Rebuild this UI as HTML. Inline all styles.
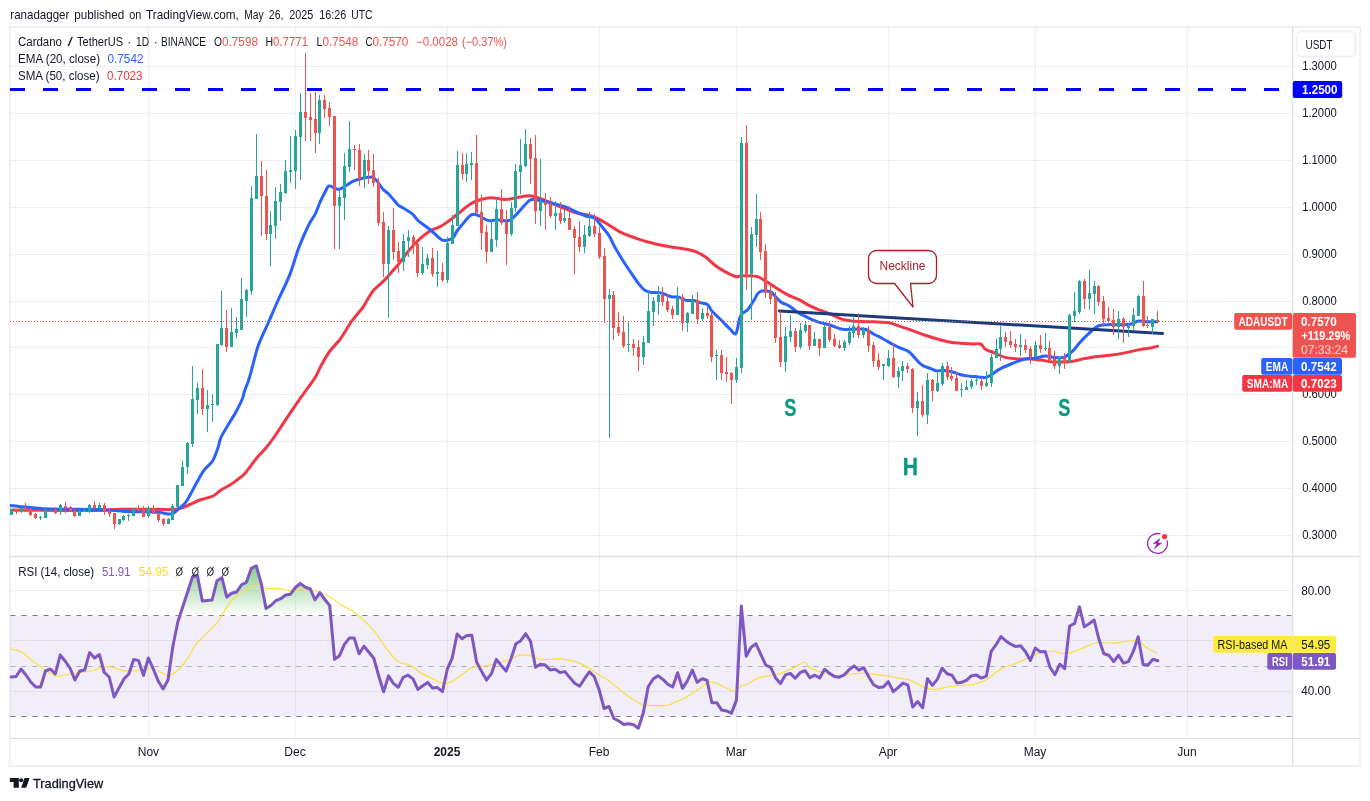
<!DOCTYPE html>
<html><head><meta charset="utf-8"><title>ADAUSDT</title>
<style>html,body{margin:0;padding:0;background:#fff;}body{width:1370px;height:801px;overflow:hidden;}svg{display:block;will-change:transform;}text{font-family:"Liberation Sans",sans-serif;}</style></head><body>
<svg width="1370" height="801" viewBox="0 0 1370 801">
<defs>
<linearGradient id="gUp" gradientUnits="userSpaceOnUse" x1="0" y1="540" x2="0" y2="615.8"><stop offset="0" stop-color="#4caf50" stop-opacity="1"/><stop offset="1" stop-color="#4caf50" stop-opacity="0"/></linearGradient>
<linearGradient id="gDn" gradientUnits="userSpaceOnUse" x1="0" y1="716.6" x2="0" y2="792"><stop offset="0" stop-color="#ff5252" stop-opacity="0"/><stop offset="1" stop-color="#ff5252" stop-opacity="1"/></linearGradient>
<clipPath id="cpMain"><rect x="10" y="27" width="1283" height="529.5"/></clipPath>
<clipPath id="cpUp"><rect x="10" y="557" width="1283" height="58.8"/></clipPath>
<clipPath id="cpDn"><rect x="10" y="716.6" width="1283" height="22"/></clipPath>
<clipPath id="cpRsi"><rect x="10" y="557" width="1283" height="181.5"/></clipPath>
</defs>
<rect width="1370" height="801" fill="#fff"/>
<rect x="9.8" y="26.8" width="1350.4" height="739.4" fill="#fff" stroke="#edeff3" stroke-width="1.7"/>
<rect x="10" y="615.8" width="1283" height="100.8" fill="#7e57c2" fill-opacity="0.1"/>
<path d="M148.5 27V738 M295.5 27V738 M447.5 27V738 M599.5 27V738 M736.5 27V738 M888.5 27V738 M1035.5 27V738 M1187.5 27V738 M10 66.5H1293 M10 113.5H1293 M10 160.5H1293 M10 207.5H1293 M10 254.5H1293 M10 301.5H1293 M10 347.5H1293 M10 394.5H1293 M10 441.5H1293 M10 488.5H1293 M10 535.5H1293 M10 590.5H1293 M10 640.5H1293 M10 691.5H1293" stroke="#2a2e39" stroke-opacity="0.07" stroke-width="1" fill="none"/>
<path d="M10 556.5H1360" stroke="#e0e3eb" stroke-width="1.4"/>
<path d="M1292.7 27V766" stroke="#dfe1e6" stroke-width="1.3"/>
<path d="M10 738.5H1360" stroke="#dfe1e6" stroke-width="1.2"/>
<path d="M10 615.5H1293 M10 716.5H1293" stroke="#787b86" stroke-width="1.1" stroke-dasharray="5 6" stroke-dashoffset="-0.5" fill="none"/>
<path d="M10 666.5H1293" stroke="#787b86" stroke-opacity="0.55" stroke-width="1.1" stroke-dasharray="5 6" stroke-dashoffset="-0.5" fill="none"/>
<g clip-path="url(#cpMain)">
<path d="M10 89.5H1293" stroke="#0000ff" stroke-width="3" stroke-dasharray="15 18" fill="none"/>
<path d="M10.0 510.0C19.0 510.1 43.8 510.4 60.0 510.5C76.0 510.6 89.2 510.7 100.0 510.5C108.0 510.3 112.0 509.3 120.0 509.2C133.0 509.0 161.2 509.6 172.0 509.5C175.2 509.5 176.9 509.4 180.0 508.5C183.2 507.6 186.4 506.0 190.0 504.5C193.6 503.0 195.9 501.5 200.0 500.0C204.1 498.5 209.2 497.8 213.0 496.0C216.6 494.3 217.8 492.0 220.9 490.0C224.0 488.0 227.3 486.6 230.0 485.0C232.5 483.5 233.6 482.7 235.9 480.9C238.6 478.8 241.8 476.9 244.9 473.4C248.7 469.2 253.1 462.3 256.9 457.7C260.3 453.6 262.7 451.9 265.9 448.0C269.1 444.1 271.5 440.9 274.9 436.0C278.4 430.9 281.3 426.3 285.6 419.9C290.1 413.2 294.6 406.5 299.9 398.9C305.2 391.3 311.1 383.8 314.9 377.9C317.8 373.4 318.3 370.6 320.9 365.9C323.6 361.1 326.4 355.8 329.9 351.0C333.4 346.2 336.5 344.1 340.3 339.0C344.1 333.9 346.8 328.2 350.8 322.5C354.9 316.8 359.8 311.6 362.8 307.5C364.9 304.7 365.4 303.0 367.3 300.0C369.3 296.9 370.7 293.6 373.8 290.1C376.9 286.6 380.5 284.3 384.3 280.4C388.1 276.5 392.0 271.6 394.8 268.4C396.9 266.0 398.0 264.9 400.0 262.4C402.6 259.2 405.5 254.6 409.0 250.4C412.5 246.2 415.7 242.7 419.5 239.2C423.3 235.7 426.2 233.3 430.0 231.0C433.8 228.7 437.0 228.4 440.5 226.5C444.0 224.6 446.0 223.1 449.5 220.5C453.0 217.9 456.2 215.2 460.0 212.2C463.8 209.2 466.6 206.3 470.4 204.0C474.2 201.7 477.1 200.6 480.9 199.5C484.7 198.4 487.1 197.7 491.4 197.7C495.7 197.7 500.3 199.5 504.9 199.5C509.5 199.5 512.6 198.4 516.9 197.7C521.2 197.0 525.1 195.7 528.9 195.7C532.6 195.7 534.4 196.6 537.9 197.7C541.7 198.9 545.1 200.6 549.9 202.5C554.7 204.4 560.0 206.6 564.8 208.5C569.6 210.4 572.5 211.8 576.8 213.0C581.1 214.2 585.0 214.2 588.8 215.2C592.5 216.2 594.3 217.0 597.8 218.7C601.3 220.4 604.4 222.3 608.5 224.7C612.6 227.1 615.4 229.8 620.5 232.2C626.2 234.9 633.8 237.6 640.0 239.7C645.9 241.7 649.0 242.5 654.9 243.8C660.8 245.2 667.0 246.2 672.9 247.2C678.8 248.2 683.6 248.6 687.9 249.5C691.6 250.3 693.7 250.8 696.9 252.2C700.1 253.6 702.7 255.0 705.9 257.3C709.1 259.6 711.4 262.6 714.9 265.2C718.4 267.8 721.6 269.8 725.4 271.9C729.2 274.0 732.9 276.0 735.9 276.7C738.3 277.2 739.5 275.7 741.9 275.7C745.7 275.6 752.8 275.6 756.8 276.4C760.1 277.1 761.4 278.5 764.3 280.2C767.5 282.1 770.8 284.3 774.8 286.9C778.8 289.5 782.4 292.1 786.8 294.4C791.2 296.7 794.9 297.7 799.0 299.7C803.1 301.7 805.7 303.8 809.5 305.7C813.3 307.6 816.2 308.7 820.0 310.2C823.8 311.7 826.7 312.5 830.5 314.0C834.3 315.5 837.5 317.6 841.0 318.8C844.4 320.0 846.4 320.2 849.9 320.7C853.4 321.2 856.2 321.3 860.4 321.5C864.7 321.7 868.8 321.6 873.9 321.8C879.0 322.0 884.6 322.0 888.9 322.7C892.6 323.3 894.3 324.5 897.9 325.7C901.7 327.0 905.6 328.2 909.9 329.7C914.2 331.2 917.6 332.7 921.9 334.2C926.2 335.7 929.1 336.6 933.9 338.0C939.0 339.4 945.5 341.3 950.3 342.2C954.4 343.0 956.6 342.9 960.8 343.2C965.2 343.5 971.4 343.7 975.0 343.9C977.4 344.0 979.1 343.2 981.0 344.2C982.9 345.2 983.2 347.7 985.5 349.2C987.9 350.8 991.0 351.4 994.5 352.9C998.0 354.4 1001.0 356.3 1005.0 357.4C1009.0 358.5 1012.4 358.6 1017.0 358.9C1021.6 359.2 1026.1 358.7 1030.4 358.9C1034.6 359.1 1036.9 359.6 1040.9 360.1C1045.0 360.6 1048.1 361.7 1052.9 361.9C1058.3 362.2 1065.5 362.1 1070.9 361.6C1075.8 361.1 1078.6 359.8 1082.9 358.9C1087.2 358.0 1090.1 357.4 1094.9 356.7C1099.8 356.0 1104.5 355.9 1109.9 355.2C1115.3 354.5 1119.5 353.9 1124.9 352.9C1130.3 351.9 1135.0 350.5 1139.8 349.6C1144.6 348.7 1148.6 348.3 1151.8 347.7C1154.1 347.3 1156.5 346.5 1157.5 346.2" fill="none" stroke="#f23645" stroke-width="3" stroke-linejoin="round" stroke-linecap="round"/>
<path d="M10.0 505.5C13.6 505.9 22.8 506.9 30.0 507.5C37.2 508.1 42.0 508.8 50.0 509.0C62.6 509.4 86.5 509.1 100.0 509.5C110.0 509.8 116.9 511.1 125.0 511.5C133.0 511.9 140.5 511.7 145.0 511.8C147.0 511.8 148.0 511.9 150.0 512.0C152.7 512.1 156.8 512.1 160.0 512.5C163.2 512.9 165.7 513.8 168.0 514.0C170.0 514.2 171.3 514.3 173.0 513.5C174.7 512.7 175.7 511.3 177.5 509.8C179.7 507.9 182.8 505.7 185.0 503.2C187.2 500.7 187.8 499.0 189.5 496.0C191.7 492.2 194.3 486.7 197.0 482.0C199.7 477.3 201.6 473.5 204.4 469.7C207.2 465.9 210.3 464.6 212.7 460.7C215.1 456.8 216.4 452.2 217.9 448.0C219.4 443.9 219.1 441.5 220.9 437.5C223.1 432.8 227.2 426.6 229.9 422.0C232.3 418.0 233.7 416.1 235.9 412.0C238.2 407.7 241.2 401.7 242.7 398.0C243.7 395.5 243.5 394.0 244.4 391.4C245.5 388.1 247.4 384.3 248.9 379.4C250.5 374.3 251.8 368.8 253.4 362.9C255.0 357.0 256.5 350.8 257.9 346.5C258.9 343.4 259.6 342.0 260.9 339.0C262.8 334.7 265.5 329.1 268.4 322.5C271.5 315.5 274.3 308.7 278.2 300.0C282.1 291.3 286.2 283.9 289.9 274.4C293.6 264.9 295.4 256.6 298.9 247.4C302.4 238.2 306.4 229.6 309.4 223.5C311.4 219.4 313.5 217.5 315.4 213.7C317.3 209.9 318.2 206.4 319.9 202.5C321.6 198.6 323.5 195.0 325.1 192.0C326.5 189.5 327.1 186.7 328.9 186.0C330.7 185.3 333.0 187.6 334.9 188.2C336.7 188.8 337.6 189.7 339.4 189.3C341.3 188.9 343.0 187.4 345.4 186.0C348.0 184.5 350.5 182.4 353.9 180.9C357.3 179.4 361.2 178.6 364.4 177.9C367.4 177.3 369.7 176.6 371.9 177.1C374.1 177.6 375.2 178.9 376.8 180.7C378.8 182.8 380.6 186.6 382.8 189.0C384.9 191.4 386.6 191.9 388.8 194.2C391.5 197.0 395.8 202.5 397.8 204.7C398.5 205.5 399.1 205.6 400.0 206.2C402.6 207.8 408.8 211.1 412.0 213.7C414.8 216.0 415.3 218.1 418.0 220.5C421.2 223.3 425.7 226.0 430.0 229.5C434.3 233.0 438.8 238.1 442.0 240.0C444.1 241.2 446.0 240.4 448.0 240.0C450.0 239.6 451.6 239.3 453.2 237.7C454.8 236.1 455.2 233.5 457.0 231.0C459.0 228.2 461.8 224.9 464.4 222.0C467.0 219.1 468.8 216.0 471.2 214.8C473.6 213.6 475.6 214.5 477.9 215.2C480.2 215.9 481.7 217.7 483.9 218.7C486.1 219.7 487.5 220.6 489.9 220.8C492.3 221.0 494.7 219.7 497.4 219.7C500.1 219.7 502.5 220.8 504.9 220.8C507.3 220.8 508.8 221.0 510.9 219.7C513.3 218.2 516.0 214.8 518.4 212.2C520.8 209.6 522.2 207.7 524.4 205.5C526.6 203.3 528.0 200.8 530.4 199.8C532.8 198.8 534.9 199.8 537.9 200.2C541.4 200.7 545.1 201.4 549.9 202.5C554.7 203.7 560.0 205.0 564.8 206.7C569.6 208.4 573.0 210.5 576.8 212.2C580.4 213.8 582.6 214.9 585.8 216.0C589.0 217.1 592.1 216.5 594.8 218.2C597.5 219.9 598.6 222.5 601.0 225.5C603.6 228.7 606.8 232.2 609.2 236.0C611.6 239.8 612.2 242.4 614.5 246.5C617.1 251.1 620.3 256.4 623.5 261.5C626.7 266.6 629.5 270.6 632.5 274.9C635.4 279.1 637.8 282.7 640.0 285.4C641.6 287.4 642.6 288.7 644.5 289.9C646.4 291.1 647.9 291.7 650.4 292.2C653.4 292.7 657.1 292.1 660.9 292.9C664.7 293.7 668.2 295.9 671.4 296.7C674.3 297.4 676.2 296.4 678.9 297.1C681.6 297.8 683.7 299.8 686.4 300.4C689.1 301.0 691.5 300.0 693.9 300.4C696.3 300.8 697.5 301.9 699.9 302.7C702.3 303.5 705.2 303.1 707.4 304.6C709.6 306.1 709.8 308.6 711.9 310.9C714.6 313.9 719.2 318.2 722.4 321.4C725.4 324.4 727.5 326.7 729.9 328.9C732.1 330.9 734.2 335.3 735.9 333.4C737.6 331.5 738.5 321.9 739.6 318.4C740.2 316.5 740.5 315.4 741.9 313.9C743.4 312.3 745.9 311.6 747.9 309.4C750.1 307.0 751.8 303.6 753.9 300.4C756.0 297.2 756.8 293.3 759.8 291.7C762.8 290.1 767.6 290.9 770.3 291.7C772.7 292.4 773.0 294.2 774.8 295.9C776.7 297.7 778.1 300.0 780.8 301.9C783.5 303.8 786.5 304.4 789.8 306.4C793.1 308.4 795.7 311.2 799.0 313.2C802.3 315.2 804.5 316.1 808.0 317.7C811.5 319.3 814.5 320.8 818.5 322.2C822.5 323.6 826.2 323.9 830.5 325.2C834.8 326.5 838.4 328.6 842.4 329.3C846.4 330.0 848.9 329.3 852.9 329.3C856.9 329.3 861.1 328.4 864.9 329.3C868.7 330.2 870.7 332.5 873.9 334.2C877.1 335.9 879.7 337.0 882.9 338.7C886.1 340.4 888.9 342.3 891.9 343.9C894.9 345.5 896.4 346.3 899.4 347.7C902.4 349.1 905.7 349.7 908.4 351.4C911.1 353.1 912.0 355.0 914.4 357.4C916.8 359.8 918.9 362.9 921.9 364.9C924.9 366.9 928.2 367.6 930.9 368.7C933.3 369.6 934.7 370.6 936.9 370.9C939.1 371.2 940.5 370.1 942.9 370.2C945.6 370.3 948.6 370.9 951.8 371.7C955.0 372.5 957.6 373.9 960.8 374.7C964.0 375.5 966.6 375.8 969.8 376.2C973.0 376.6 976.0 376.6 978.8 376.9C981.5 377.1 983.2 378.0 985.5 377.6C987.8 377.2 989.2 376.0 991.5 374.6C994.2 373.0 996.7 370.6 1000.5 368.6C1004.3 366.6 1008.2 365.1 1012.5 363.4C1016.8 361.7 1020.5 360.1 1024.5 359.2C1028.5 358.3 1031.1 358.8 1034.9 358.2C1038.7 357.6 1041.9 356.0 1045.4 355.9C1048.9 355.8 1051.2 357.1 1054.4 357.4C1057.6 357.7 1060.7 358.1 1063.4 357.4C1066.1 356.7 1067.5 355.1 1069.4 353.7C1071.3 352.3 1072.3 351.6 1073.9 349.9C1075.8 347.9 1077.3 345.2 1079.9 342.4C1082.6 339.4 1085.7 336.3 1088.9 333.4C1092.1 330.5 1094.7 327.8 1097.9 326.2C1101.1 324.6 1103.3 325.0 1106.9 324.7C1110.7 324.4 1114.6 324.8 1118.9 324.7C1123.2 324.6 1127.4 324.7 1130.9 324.1C1134.0 323.5 1135.6 321.5 1138.3 321.1C1141.0 320.7 1142.8 321.6 1145.8 321.7C1149.2 321.8 1155.1 321.7 1157.1 321.7" fill="none" stroke="#2962ff" stroke-width="3" stroke-linejoin="round" stroke-linecap="round"/>
<path d="M779.3 310.9L1162.6 333.4" stroke="#1c3a7c" stroke-width="3" stroke-linecap="round" fill="none"/>
<path d="M11 509h1V515h-1zM21 508h1V513h-1zM40 516h1V520h-1zM45 509h1V518h-1zM50 510h1V511h-1zM60 504h1V515h-1zM79 510h1V516h-1zM84 508h1V512h-1zM89 504h1V513h-1zM99 503h1V509h-1zM119 519h1V525h-1zM123 515h1V521h-1zM128 514h1V521h-1zM133 508h1V516h-1zM148 506h1V518h-1zM168 518h1V524h-1zM172 504h1V520h-1zM177 485h1V507h-1zM182 461h1V486h-1zM187 442h1V474h-1zM192 366h1V447h-1zM197 383h1V414h-1zM207 390h1V432h-1zM212 394h1V422h-1zM217 344h1V406h-1zM221 291h1V346h-1zM231 308h1V347h-1zM236 317h1V338h-1zM241 278h1V330h-1zM246 289h1V317h-1zM251 186h1V295h-1zM256 134h1V199h-1zM270 211h1V266h-1zM275 187h1V239h-1zM280 184h1V221h-1zM285 160h1V194h-1zM290 136h1V183h-1zM295 130h1V189h-1zM300 93h1V180h-1zM319 95h1V144h-1zM339 190h1V249h-1zM344 153h1V220h-1zM349 121h1V172h-1zM364 154h1V188h-1zM388 226h1V318h-1zM403 234h1V271h-1zM408 230h1V257h-1zM422 247h1V275h-1zM427 254h1V269h-1zM437 251h1V287h-1zM447 237h1V283h-1zM452 215h1V244h-1zM457 151h1V226h-1zM466 153h1V182h-1zM471 152h1V180h-1zM491 219h1V252h-1zM496 198h1V247h-1zM511 202h1V236h-1zM515 164h1V212h-1zM520 139h1V194h-1zM525 129h1V167h-1zM540 159h1V226h-1zM555 201h1V230h-1zM564 210h1V223h-1zM584 225h1V253h-1zM589 212h1V237h-1zM609 289h1V438h-1zM628 321h1V352h-1zM643 336h1V365h-1zM648 291h1V343h-1zM653 297h1V326h-1zM658 286h1V315h-1zM677 287h1V315h-1zM687 312h1V332h-1zM692 295h1V314h-1zM702 308h1V321h-1zM716 350h1V380h-1zM736 358h1V383h-1zM741 137h1V373h-1zM751 227h1V320h-1zM756 194h1V247h-1zM785 327h1V372h-1zM790 315h1V342h-1zM800 323h1V349h-1zM805 321h1V333h-1zM814 332h1V346h-1zM824 325h1V348h-1zM844 340h1V351h-1zM849 326h1V345h-1zM853 316h1V338h-1zM863 327h1V338h-1zM883 364h1V380h-1zM888 350h1V367h-1zM898 367h1V388h-1zM902 361h1V381h-1zM917 392h1V436h-1zM927 373h1V424h-1zM937 373h1V392h-1zM942 363h1V386h-1zM961 383h1V397h-1zM966 380h1V390h-1zM971 379h1V389h-1zM976 378h1V385h-1zM986 371h1V387h-1zM991 354h1V387h-1zM996 339h1V358h-1zM1000 326h1V361h-1zM1020 334h1V356h-1zM1035 341h1V357h-1zM1045 333h1V351h-1zM1059 357h1V374h-1zM1069 314h1V362h-1zM1074 292h1V322h-1zM1079 280h1V314h-1zM1089 270h1V310h-1zM1094 281h1V314h-1zM1118 311h1V339h-1zM1128 323h1V337h-1zM1133 308h1V330h-1zM1138 295h1V316h-1zM1152 319h1V334h-1zM10 509h3V515h-3zM20 508h3V512h-3zM39 517h3V518h-3zM44 510h3V518h-3zM49 510h3V511h-3zM59 505h3V512h-3zM78 511h3V516h-3zM83 510h3V512h-3zM88 505h3V512h-3zM98 505h3V508h-3zM118 519h3V524h-3zM122 516h3V520h-3zM127 515h3V516h-3zM132 509h3V516h-3zM147 508h3V516h-3zM167 519h3V524h-3zM171 506h3V520h-3zM176 485h3V507h-3zM181 467h3V486h-3zM186 443h3V467h-3zM191 399h3V444h-3zM196 388h3V400h-3zM206 405h3V409h-3zM211 404h3V405h-3zM216 344h3V405h-3zM220 328h3V345h-3zM230 332h3V347h-3zM235 329h3V333h-3zM240 299h3V330h-3zM245 290h3V301h-3zM250 198h3V291h-3zM255 176h3V199h-3zM269 225h3V234h-3zM274 201h3V226h-3zM279 192h3V202h-3zM284 171h3V193h-3zM289 170h3V172h-3zM294 136h3V171h-3zM299 112h3V137h-3zM318 100h3V133h-3zM338 197h3V206h-3zM343 166h3V198h-3zM348 149h3V167h-3zM363 160h3V179h-3zM387 230h3V264h-3zM402 241h3V262h-3zM407 237h3V241h-3zM421 264h3V273h-3zM426 258h3V265h-3zM436 272h3V274h-3zM446 243h3V280h-3zM451 225h3V244h-3zM456 165h3V226h-3zM465 164h3V174h-3zM470 163h3V165h-3zM490 239h3V252h-3zM495 209h3V240h-3zM510 208h3V234h-3zM514 171h3V208h-3zM519 165h3V172h-3zM524 144h3V166h-3zM539 201h3V211h-3zM554 213h3V216h-3zM563 218h3V221h-3zM583 235h3V247h-3zM588 226h3V236h-3zM608 295h3V299h-3zM627 344h3V345h-3zM642 342h3V357h-3zM647 311h3V343h-3zM652 301h3V312h-3zM657 295h3V302h-3zM676 297h3V315h-3zM686 313h3V323h-3zM691 300h3V314h-3zM701 313h3V319h-3zM715 355h3V356h-3zM735 367h3V380h-3zM740 143h3V368h-3zM750 234h3V274h-3zM755 219h3V235h-3zM784 336h3V362h-3zM789 331h3V337h-3zM799 330h3V347h-3zM804 325h3V331h-3zM813 339h3V346h-3zM823 327h3V348h-3zM843 342h3V348h-3zM848 332h3V343h-3zM852 326h3V333h-3zM862 329h3V335h-3zM882 364h3V366h-3zM887 358h3V366h-3zM897 371h3V377h-3zM901 366h3V371h-3zM916 401h3V408h-3zM926 380h3V415h-3zM936 383h3V391h-3zM941 366h3V384h-3zM960 389h3V390h-3zM965 387h3V390h-3zM970 381h3V387h-3zM975 380h3V381h-3zM985 383h3V386h-3zM990 357h3V383h-3zM995 349h3V358h-3zM999 337h3V349h-3zM1019 345h3V347h-3zM1034 345h3V357h-3zM1044 348h3V349h-3zM1058 357h3V366h-3zM1068 315h3V362h-3zM1073 311h3V316h-3zM1078 281h3V312h-3zM1088 293h3V299h-3zM1093 286h3V294h-3zM1117 319h3V327h-3zM1127 326h3V328h-3zM1132 315h3V326h-3zM1137 296h3V316h-3zM1151 319h3V327h-3z" fill="#26a69a" shape-rendering="crispEdges"/>
<path d="M16 509h1V514h-1zM25 503h1V512h-1zM30 508h1V516h-1zM35 513h1V519h-1zM55 507h1V514h-1zM65 502h1V513h-1zM70 506h1V512h-1zM74 509h1V517h-1zM94 501h1V510h-1zM104 503h1V515h-1zM109 509h1V517h-1zM114 513h1V529h-1zM138 505h1V511h-1zM143 506h1V517h-1zM153 505h1V514h-1zM158 513h1V522h-1zM163 518h1V526h-1zM202 369h1V415h-1zM226 310h1V352h-1zM261 161h1V236h-1zM266 170h1V240h-1zM305 53h1V141h-1zM310 93h1V141h-1zM315 92h1V153h-1zM324 95h1V118h-1zM329 102h1V126h-1zM334 116h1V249h-1zM354 145h1V170h-1zM359 144h1V186h-1zM368 150h1V184h-1zM373 154h1V187h-1zM378 178h1V226h-1zM383 212h1V277h-1zM393 208h1V260h-1zM398 242h1V273h-1zM413 235h1V254h-1zM417 241h1V277h-1zM432 248h1V277h-1zM442 263h1V282h-1zM462 153h1V180h-1zM476 135h1V213h-1zM481 195h1V250h-1zM486 225h1V263h-1zM501 189h1V225h-1zM506 210h1V265h-1zM530 138h1V184h-1zM535 135h1V224h-1zM545 193h1V230h-1zM550 197h1V218h-1zM560 202h1V224h-1zM569 206h1V230h-1zM574 226h1V274h-1zM579 221h1V252h-1zM594 214h1V237h-1zM599 227h1V259h-1zM604 248h1V323h-1zM613 291h1V340h-1zM618 312h1V336h-1zM623 316h1V348h-1zM633 339h1V356h-1zM638 340h1V371h-1zM662 287h1V306h-1zM667 294h1V312h-1zM672 306h1V319h-1zM682 294h1V331h-1zM697 292h1V324h-1zM707 306h1V319h-1zM711 311h1V362h-1zM721 350h1V380h-1zM726 357h1V382h-1zM731 372h1V404h-1zM746 125h1V290h-1zM760 212h1V260h-1zM765 244h1V298h-1zM770 283h1V304h-1zM775 292h1V343h-1zM780 311h1V367h-1zM795 328h1V352h-1zM809 325h1V350h-1zM819 339h1V356h-1zM829 322h1V342h-1zM834 334h1V347h-1zM839 340h1V349h-1zM858 313h1V338h-1zM868 326h1V352h-1zM873 342h1V367h-1zM878 353h1V370h-1zM893 343h1V378h-1zM907 363h1V373h-1zM912 368h1V413h-1zM922 385h1V417h-1zM932 379h1V401h-1zM947 362h1V380h-1zM951 367h1V381h-1zM956 372h1V391h-1zM981 378h1V390h-1zM1005 332h1V347h-1zM1010 331h1V348h-1zM1015 339h1V352h-1zM1025 339h1V353h-1zM1030 346h1V364h-1zM1040 335h1V353h-1zM1049 341h1V360h-1zM1054 351h1V369h-1zM1064 353h1V369h-1zM1084 279h1V309h-1zM1098 285h1V306h-1zM1103 296h1V327h-1zM1108 307h1V324h-1zM1113 309h1V335h-1zM1123 317h1V343h-1zM1143 281h1V327h-1zM1147 316h1V328h-1zM1157 311h1V322h-1zM15 509h3V512h-3zM24 508h3V512h-3zM29 509h3V515h-3zM34 514h3V518h-3zM54 510h3V513h-3zM64 506h3V508h-3zM69 507h3V512h-3zM73 511h3V516h-3zM93 505h3V508h-3zM103 505h3V512h-3zM108 512h3V514h-3zM113 513h3V524h-3zM137 508h3V510h-3zM142 508h3V517h-3zM152 508h3V514h-3zM157 513h3V520h-3zM162 519h3V524h-3zM201 388h3V409h-3zM225 328h3V347h-3zM260 176h3V196h-3zM265 196h3V234h-3zM304 112h3V118h-3zM309 117h3V120h-3zM314 119h3V133h-3zM323 100h3V109h-3zM328 108h3V117h-3zM333 116h3V206h-3zM353 149h3V150h-3zM358 150h3V179h-3zM367 160h3V171h-3zM372 170h3V183h-3zM377 182h3V223h-3zM382 222h3V264h-3zM392 230h3V252h-3zM397 251h3V262h-3zM412 237h3V246h-3zM416 244h3V273h-3zM431 258h3V274h-3zM441 272h3V280h-3zM461 165h3V174h-3zM475 163h3V213h-3zM480 212h3V233h-3zM485 232h3V252h-3zM500 209h3V223h-3zM505 222h3V234h-3zM529 144h3V159h-3zM534 158h3V211h-3zM544 202h3V205h-3zM549 204h3V216h-3zM559 213h3V221h-3zM568 218h3V230h-3zM573 229h3V238h-3zM578 237h3V247h-3zM593 226h3V234h-3zM598 233h3V257h-3zM603 256h3V299h-3zM612 295h3V328h-3zM617 327h3V333h-3zM622 332h3V346h-3zM632 344h3V348h-3zM637 347h3V357h-3zM661 295h3V302h-3zM666 301h3V310h-3zM671 309h3V315h-3zM681 297h3V323h-3zM696 300h3V319h-3zM706 313h3V316h-3zM710 315h3V357h-3zM720 355h3V373h-3zM725 372h3V374h-3zM730 373h3V380h-3zM745 143h3V274h-3zM759 219h3V252h-3zM764 251h3V293h-3zM769 292h3V299h-3zM774 298h3V338h-3zM779 337h3V362h-3zM794 331h3V347h-3zM808 325h3V346h-3zM818 339h3V348h-3zM828 327h3V340h-3zM833 339h3V346h-3zM838 345h3V348h-3zM857 326h3V335h-3zM867 330h3V346h-3zM872 345h3V361h-3zM877 360h3V367h-3zM892 358h3V377h-3zM906 366h3V369h-3zM911 369h3V408h-3zM921 401h3V415h-3zM931 380h3V391h-3zM946 366h3V377h-3zM950 376h3V379h-3zM955 378h3V391h-3zM980 381h3V386h-3zM1004 337h3V342h-3zM1009 341h3V345h-3zM1014 344h3V347h-3zM1024 345h3V350h-3zM1029 349h3V357h-3zM1039 345h3V349h-3zM1048 348h3V360h-3zM1053 359h3V366h-3zM1063 357h3V363h-3zM1083 281h3V299h-3zM1097 286h3V302h-3zM1102 301h3V319h-3zM1107 318h3V321h-3zM1112 320h3V327h-3zM1122 319h3V327h-3zM1142 296h3V326h-3zM1146 325h3V326h-3zM1156 320h3V322h-3z" fill="#ef5350" shape-rendering="crispEdges"/>
<path d="M10 321.5H1234" stroke="#ef5350" stroke-width="1" stroke-dasharray="1 2" fill="none"/>
<path d="M876.5 250.5H928.5a8 8 0 0 1 8 8V275.5a8 8 0 0 1 -8 8H910.5L913 307L894.5 283.5H876.5a8 8 0 0 1 -8 -8V258.5a8 8 0 0 1 8 -8z" fill="#fff" fill-opacity="0.7" stroke="#a61f2b" stroke-width="1.3" stroke-linejoin="round"/>
<text x="902.5" y="269.8" font-size="12" fill="#a61f2b" text-anchor="middle" textLength="46" lengthAdjust="spacingAndGlyphs">Neckline</text>
<text transform="translate(790.2,416.2) scale(0.79,1)" x="0" y="0" font-size="23" font-weight="bold" fill="#089981" stroke="#089981" stroke-width="0.3" text-anchor="middle">S</text>
<text transform="translate(910.4,474.9) scale(0.92,1)" x="0" y="0" font-size="23" font-weight="bold" fill="#089981" stroke="#089981" stroke-width="0.3" text-anchor="middle">H</text>
<text transform="translate(1064.2,416.2) scale(0.79,1)" x="0" y="0" font-size="23" font-weight="bold" fill="#089981" stroke="#089981" stroke-width="0.3" text-anchor="middle">S</text>
<g fill="none" stroke="#9c27b0" stroke-width="1.3"><path d="M1160.4 533.98A9.9 9.9 0 1 0 1166.9 540.4"/></g>
<path d="M1159.9 538.4L1153.3 543.5H1157L1154.3 548.9L1161.6 543.1H1157.9z" fill="#9c27b0" stroke="#9c27b0" stroke-width="0.5" stroke-linejoin="round"/>
<circle cx="1164.5" cy="536.5" r="2.6" fill="#f23645"/>
</g>
<g clip-path="url(#cpRsi)">
<path d="M11.2 677.0 L16.1 676.5 L21.0 669.0 L25.9 675.0 L30.8 682.0 L35.7 687.0 L40.6 687.0 L45.5 671.0 L50.4 669.0 L55.3 674.0 L60.2 655.0 L65.1 661.0 L70.0 668.0 L74.9 680.0 L79.8 671.0 L84.7 670.0 L89.6 652.6 L94.5 658.0 L99.4 654.6 L104.3 672.5 L109.2 677.0 L114.1 697.0 L119.0 688.0 L123.9 679.0 L128.8 674.0 L133.7 659.4 L138.6 660.6 L143.5 675.4 L148.4 658.0 L153.3 669.0 L158.2 681.0 L163.1 689.0 L168.0 680.0 L172.9 646.0 L177.8 622.0 L182.7 607.0 L187.6 592.0 L192.5 577.0 L197.4 575.5 L202.3 601.0 L207.2 600.5 L212.1 600.0 L217.0 580.7 L221.9 577.7 L226.8 597.2 L231.7 593.2 L236.6 592.0 L241.5 584.8 L246.4 582.2 L251.3 568.3 L256.2 565.7 L261.1 583.0 L266.0 608.4 L270.9 605.5 L275.8 600.7 L280.7 598.7 L285.6 595.0 L290.5 594.2 L295.4 587.5 L300.3 583.3 L305.2 587.2 L310.1 588.7 L315.0 599.8 L319.9 592.7 L324.8 599.5 L329.7 605.5 L334.6 659.4 L339.5 655.7 L344.4 644.4 L349.3 638.1 L354.2 638.1 L359.1 653.7 L364.0 646.2 L368.9 652.2 L373.8 658.2 L378.7 675.9 L383.6 691.7 L388.5 675.9 L393.4 683.4 L398.3 687.2 L403.2 677.4 L408.1 675.2 L413.0 678.9 L417.9 689.4 L422.8 685.7 L427.7 682.4 L432.6 687.9 L437.5 687.6 L442.4 691.7 L447.3 669.2 L452.2 658.0 L457.1 634.0 L462.0 638.8 L466.9 635.5 L471.8 635.2 L476.7 662.4 L481.6 671.4 L486.5 680.1 L491.4 673.7 L496.3 659.4 L501.2 665.4 L506.1 671.1 L511.0 658.7 L515.9 643.7 L520.8 640.7 L525.7 633.7 L530.6 641.5 L535.5 667.2 L540.4 664.2 L545.3 665.1 L550.2 669.9 L555.1 669.2 L560.0 672.6 L564.9 671.6 L569.8 677.6 L574.7 683.3 L579.6 686.2 L584.5 678.7 L589.4 671.9 L594.3 676.7 L599.2 690.0 L604.1 708.5 L609.0 706.5 L613.9 718.5 L618.8 721.0 L623.7 724.5 L628.6 723.8 L633.5 724.8 L638.4 728.2 L643.3 713.0 L648.2 686.7 L653.1 679.1 L658.0 675.7 L662.9 679.4 L667.8 684.2 L672.7 686.9 L677.6 672.7 L682.5 688.4 L687.4 680.9 L692.3 670.1 L697.2 682.4 L702.1 678.7 L707.0 680.2 L711.9 702.7 L716.8 702.7 L721.7 710.1 L726.6 710.9 L731.5 713.1 L736.4 700.4 L741.3 606.0 L746.2 656.2 L751.1 647.2 L756.0 643.8 L760.9 654.7 L765.8 665.2 L770.7 667.3 L775.6 677.9 L780.5 683.6 L785.4 674.9 L790.3 673.4 L795.2 678.2 L800.1 672.7 L805.0 670.7 L809.9 677.6 L814.8 675.2 L819.7 677.9 L824.6 669.2 L829.5 673.4 L834.4 676.4 L839.3 677.2 L844.2 674.9 L849.1 669.7 L854.0 665.9 L858.9 670.1 L863.8 667.7 L868.7 676.7 L873.6 684.7 L878.5 687.4 L883.4 686.9 L888.3 681.7 L893.2 691.7 L898.1 687.7 L903.0 683.2 L907.9 685.1 L912.8 707.1 L917.7 701.6 L922.6 707.9 L927.5 678.7 L932.4 685.4 L937.3 679.4 L942.2 668.2 L947.1 673.7 L952.0 675.2 L956.9 683.0 L961.8 682.3 L966.7 680.2 L971.6 675.7 L976.5 675.1 L981.4 678.1 L986.3 676.2 L991.2 651.4 L996.1 644.7 L1001.0 636.5 L1005.9 641.0 L1010.8 644.2 L1015.7 646.6 L1020.6 645.7 L1025.5 651.7 L1030.4 660.4 L1035.3 648.1 L1040.2 651.7 L1045.1 651.4 L1050.0 667.2 L1054.9 674.7 L1059.8 664.2 L1064.7 668.7 L1069.6 626.0 L1074.5 623.7 L1079.4 606.8 L1084.3 626.7 L1089.2 623.7 L1094.1 620.0 L1099.0 639.5 L1103.9 653.7 L1108.8 655.2 L1113.7 661.6 L1118.6 655.2 L1123.5 663.1 L1128.4 661.6 L1133.3 651.4 L1138.2 636.8 L1143.1 664.6 L1148.0 664.9 L1152.9 659.2 L1157.8 660.7 L1157.8 615.8 L11.2 615.8z" fill="url(#gUp)" clip-path="url(#cpUp)"/>
<path d="M11.2 677.0 L16.1 676.5 L21.0 669.0 L25.9 675.0 L30.8 682.0 L35.7 687.0 L40.6 687.0 L45.5 671.0 L50.4 669.0 L55.3 674.0 L60.2 655.0 L65.1 661.0 L70.0 668.0 L74.9 680.0 L79.8 671.0 L84.7 670.0 L89.6 652.6 L94.5 658.0 L99.4 654.6 L104.3 672.5 L109.2 677.0 L114.1 697.0 L119.0 688.0 L123.9 679.0 L128.8 674.0 L133.7 659.4 L138.6 660.6 L143.5 675.4 L148.4 658.0 L153.3 669.0 L158.2 681.0 L163.1 689.0 L168.0 680.0 L172.9 646.0 L177.8 622.0 L182.7 607.0 L187.6 592.0 L192.5 577.0 L197.4 575.5 L202.3 601.0 L207.2 600.5 L212.1 600.0 L217.0 580.7 L221.9 577.7 L226.8 597.2 L231.7 593.2 L236.6 592.0 L241.5 584.8 L246.4 582.2 L251.3 568.3 L256.2 565.7 L261.1 583.0 L266.0 608.4 L270.9 605.5 L275.8 600.7 L280.7 598.7 L285.6 595.0 L290.5 594.2 L295.4 587.5 L300.3 583.3 L305.2 587.2 L310.1 588.7 L315.0 599.8 L319.9 592.7 L324.8 599.5 L329.7 605.5 L334.6 659.4 L339.5 655.7 L344.4 644.4 L349.3 638.1 L354.2 638.1 L359.1 653.7 L364.0 646.2 L368.9 652.2 L373.8 658.2 L378.7 675.9 L383.6 691.7 L388.5 675.9 L393.4 683.4 L398.3 687.2 L403.2 677.4 L408.1 675.2 L413.0 678.9 L417.9 689.4 L422.8 685.7 L427.7 682.4 L432.6 687.9 L437.5 687.6 L442.4 691.7 L447.3 669.2 L452.2 658.0 L457.1 634.0 L462.0 638.8 L466.9 635.5 L471.8 635.2 L476.7 662.4 L481.6 671.4 L486.5 680.1 L491.4 673.7 L496.3 659.4 L501.2 665.4 L506.1 671.1 L511.0 658.7 L515.9 643.7 L520.8 640.7 L525.7 633.7 L530.6 641.5 L535.5 667.2 L540.4 664.2 L545.3 665.1 L550.2 669.9 L555.1 669.2 L560.0 672.6 L564.9 671.6 L569.8 677.6 L574.7 683.3 L579.6 686.2 L584.5 678.7 L589.4 671.9 L594.3 676.7 L599.2 690.0 L604.1 708.5 L609.0 706.5 L613.9 718.5 L618.8 721.0 L623.7 724.5 L628.6 723.8 L633.5 724.8 L638.4 728.2 L643.3 713.0 L648.2 686.7 L653.1 679.1 L658.0 675.7 L662.9 679.4 L667.8 684.2 L672.7 686.9 L677.6 672.7 L682.5 688.4 L687.4 680.9 L692.3 670.1 L697.2 682.4 L702.1 678.7 L707.0 680.2 L711.9 702.7 L716.8 702.7 L721.7 710.1 L726.6 710.9 L731.5 713.1 L736.4 700.4 L741.3 606.0 L746.2 656.2 L751.1 647.2 L756.0 643.8 L760.9 654.7 L765.8 665.2 L770.7 667.3 L775.6 677.9 L780.5 683.6 L785.4 674.9 L790.3 673.4 L795.2 678.2 L800.1 672.7 L805.0 670.7 L809.9 677.6 L814.8 675.2 L819.7 677.9 L824.6 669.2 L829.5 673.4 L834.4 676.4 L839.3 677.2 L844.2 674.9 L849.1 669.7 L854.0 665.9 L858.9 670.1 L863.8 667.7 L868.7 676.7 L873.6 684.7 L878.5 687.4 L883.4 686.9 L888.3 681.7 L893.2 691.7 L898.1 687.7 L903.0 683.2 L907.9 685.1 L912.8 707.1 L917.7 701.6 L922.6 707.9 L927.5 678.7 L932.4 685.4 L937.3 679.4 L942.2 668.2 L947.1 673.7 L952.0 675.2 L956.9 683.0 L961.8 682.3 L966.7 680.2 L971.6 675.7 L976.5 675.1 L981.4 678.1 L986.3 676.2 L991.2 651.4 L996.1 644.7 L1001.0 636.5 L1005.9 641.0 L1010.8 644.2 L1015.7 646.6 L1020.6 645.7 L1025.5 651.7 L1030.4 660.4 L1035.3 648.1 L1040.2 651.7 L1045.1 651.4 L1050.0 667.2 L1054.9 674.7 L1059.8 664.2 L1064.7 668.7 L1069.6 626.0 L1074.5 623.7 L1079.4 606.8 L1084.3 626.7 L1089.2 623.7 L1094.1 620.0 L1099.0 639.5 L1103.9 653.7 L1108.8 655.2 L1113.7 661.6 L1118.6 655.2 L1123.5 663.1 L1128.4 661.6 L1133.3 651.4 L1138.2 636.8 L1143.1 664.6 L1148.0 664.9 L1152.9 659.2 L1157.8 660.7 L1157.8 716.6 L11.2 716.6z" fill="url(#gDn)" clip-path="url(#cpDn)"/>
<path d="M10.4 649.0C12.4 649.5 17.9 650.1 21.5 652.0C25.1 653.9 26.8 656.6 30.5 659.4C34.3 662.3 37.9 665.0 42.5 668.0C47.1 671.0 50.3 675.0 56.0 676.0C61.7 677.0 67.9 674.3 74.0 673.4C80.1 672.5 83.9 672.2 90.0 671.0C96.1 669.8 101.2 666.7 108.0 666.7C114.8 666.7 120.1 670.8 128.0 671.2C135.9 671.6 144.8 668.3 152.0 669.0C158.8 669.7 163.3 675.0 168.0 675.2C172.5 675.4 174.6 673.0 178.0 670.0C181.6 666.9 184.4 662.8 187.8 657.9C191.2 653.0 194.6 646.1 196.8 642.9C197.8 641.5 198.8 641.2 200.0 640.0C203.5 636.5 212.4 628.0 216.5 623.4C219.4 620.2 220.1 618.0 222.5 614.4C225.2 610.4 228.0 605.0 231.5 601.0C235.0 597.0 237.4 594.8 242.0 592.0C246.6 589.2 252.6 585.9 256.9 585.2C260.6 584.6 262.2 587.6 265.9 588.2C269.9 588.8 274.8 588.2 279.4 588.7C284.0 589.2 286.8 590.7 291.4 590.8C296.0 590.9 300.8 589.1 304.9 589.0C308.5 589.0 310.4 589.5 313.9 590.5C318.2 591.8 324.3 593.8 328.9 596.2C333.5 598.6 335.0 601.2 339.4 604.0C344.0 606.9 349.8 609.1 354.4 612.2C359.0 615.3 361.0 617.6 364.8 621.2C368.6 624.8 371.9 628.2 375.3 632.4C378.7 636.6 379.9 639.9 383.5 644.5C387.5 649.7 392.8 657.5 397.7 661.3C402.0 664.6 406.3 663.3 410.5 665.4C414.7 667.5 417.0 670.5 421.0 672.9C425.0 675.3 428.9 677.0 432.9 678.9C436.9 680.8 440.2 682.9 443.4 683.4C446.4 683.9 448.1 683.2 450.9 681.9C454.1 680.4 457.6 677.8 461.4 675.2C465.2 672.6 467.0 669.5 471.9 667.7C476.8 665.9 482.5 666.6 488.4 665.4C494.3 664.2 499.5 662.7 504.9 661.0C510.3 659.3 514.1 656.7 518.4 655.7C522.5 654.7 525.1 654.7 528.9 655.3C532.7 655.9 535.5 658.4 539.3 659.2C543.1 660.0 546.3 659.6 549.8 659.5C553.3 659.4 555.6 658.6 558.8 658.7C562.0 658.8 564.8 659.7 567.8 660.2C570.8 660.7 572.6 660.6 575.5 661.7C579.0 663.0 583.5 665.1 587.5 667.4C591.5 669.6 594.0 671.6 598.0 674.2C602.0 676.8 605.7 678.6 610.0 681.7C614.3 684.8 617.9 688.3 621.9 691.4C625.9 694.5 628.9 696.6 632.4 698.9C635.9 701.2 638.4 703.0 641.4 704.2C644.2 705.3 645.9 705.2 648.9 705.3C653.5 705.5 662.0 705.9 666.9 705.3C670.7 704.8 672.4 703.4 675.9 701.9C679.4 700.4 682.4 699.4 686.4 697.1C690.4 694.8 694.4 691.8 698.4 689.2C702.4 686.6 705.4 683.4 708.9 682.4C712.4 681.4 714.5 682.7 717.9 683.9C721.4 685.1 725.2 687.9 728.4 689.2C731.2 690.3 733.5 691.7 735.8 691.1C738.1 690.5 739.2 686.9 741.1 685.7C742.9 684.6 744.4 685.6 746.3 684.7C749.4 683.3 754.2 679.5 758.3 677.9C762.4 676.3 764.9 676.6 769.0 675.7C773.1 674.8 776.4 674.6 781.0 673.1C785.6 671.6 790.3 669.4 794.5 667.4C798.5 665.5 801.5 662.2 804.2 662.2C806.9 662.2 806.9 665.9 809.5 667.4C812.9 669.3 818.1 671.2 822.9 672.7C827.7 674.2 831.5 675.4 836.4 675.7C841.3 676.0 845.0 674.7 849.9 674.2C854.8 673.7 858.3 673.0 863.4 673.1C868.5 673.2 873.8 674.4 878.4 674.9C882.6 675.4 885.4 675.5 888.9 676.1C892.4 676.7 894.3 677.5 897.9 678.2C901.7 678.9 905.3 678.6 909.9 680.2C914.5 681.8 918.7 685.2 923.3 686.9C927.9 688.6 930.7 689.7 935.3 689.6C939.9 689.5 943.5 687.4 948.8 686.6C954.1 685.8 960.4 685.6 965.0 685.1C968.8 684.7 970.8 685.0 974.5 684.1C978.4 683.1 982.1 682.2 986.5 679.6C991.1 677.0 994.9 672.3 1000.0 669.4C1005.1 666.5 1009.5 665.9 1014.9 663.7C1020.3 661.5 1025.0 659.5 1029.9 657.4C1034.7 655.4 1037.9 653.3 1041.9 652.2C1046.0 651.1 1048.4 650.8 1052.4 651.1C1056.5 651.4 1060.6 653.6 1064.4 653.7C1068.1 653.8 1069.9 652.8 1073.4 651.7C1076.9 650.6 1079.7 649.3 1083.9 647.7C1088.2 646.0 1092.3 643.3 1097.4 642.5C1102.5 641.7 1107.6 643.3 1112.4 643.2C1117.2 643.1 1120.3 642.2 1124.3 641.7C1128.3 641.2 1131.8 640.5 1134.8 640.7C1137.3 640.9 1138.6 641.4 1140.8 642.7C1143.0 644.0 1144.2 646.0 1146.8 647.7C1149.6 649.5 1154.8 652.0 1156.6 652.9" fill="none" stroke="#fbe045" stroke-width="1.25" stroke-linejoin="round"/>
<polyline points="11.2,677.0 16.1,676.5 21.0,669.0 25.9,675.0 30.8,682.0 35.7,687.0 40.6,687.0 45.5,671.0 50.4,669.0 55.3,674.0 60.2,655.0 65.1,661.0 70.0,668.0 74.9,680.0 79.8,671.0 84.7,670.0 89.6,652.6 94.5,658.0 99.4,654.6 104.3,672.5 109.2,677.0 114.1,697.0 119.0,688.0 123.9,679.0 128.8,674.0 133.7,659.4 138.6,660.6 143.5,675.4 148.4,658.0 153.3,669.0 158.2,681.0 163.1,689.0 168.0,680.0 172.9,646.0 177.8,622.0 182.7,607.0 187.6,592.0 192.5,577.0 197.4,575.5 202.3,601.0 207.2,600.5 212.1,600.0 217.0,580.7 221.9,577.7 226.8,597.2 231.7,593.2 236.6,592.0 241.5,584.8 246.4,582.2 251.3,568.3 256.2,565.7 261.1,583.0 266.0,608.4 270.9,605.5 275.8,600.7 280.7,598.7 285.6,595.0 290.5,594.2 295.4,587.5 300.3,583.3 305.2,587.2 310.1,588.7 315.0,599.8 319.9,592.7 324.8,599.5 329.7,605.5 334.6,659.4 339.5,655.7 344.4,644.4 349.3,638.1 354.2,638.1 359.1,653.7 364.0,646.2 368.9,652.2 373.8,658.2 378.7,675.9 383.6,691.7 388.5,675.9 393.4,683.4 398.3,687.2 403.2,677.4 408.1,675.2 413.0,678.9 417.9,689.4 422.8,685.7 427.7,682.4 432.6,687.9 437.5,687.6 442.4,691.7 447.3,669.2 452.2,658.0 457.1,634.0 462.0,638.8 466.9,635.5 471.8,635.2 476.7,662.4 481.6,671.4 486.5,680.1 491.4,673.7 496.3,659.4 501.2,665.4 506.1,671.1 511.0,658.7 515.9,643.7 520.8,640.7 525.7,633.7 530.6,641.5 535.5,667.2 540.4,664.2 545.3,665.1 550.2,669.9 555.1,669.2 560.0,672.6 564.9,671.6 569.8,677.6 574.7,683.3 579.6,686.2 584.5,678.7 589.4,671.9 594.3,676.7 599.2,690.0 604.1,708.5 609.0,706.5 613.9,718.5 618.8,721.0 623.7,724.5 628.6,723.8 633.5,724.8 638.4,728.2 643.3,713.0 648.2,686.7 653.1,679.1 658.0,675.7 662.9,679.4 667.8,684.2 672.7,686.9 677.6,672.7 682.5,688.4 687.4,680.9 692.3,670.1 697.2,682.4 702.1,678.7 707.0,680.2 711.9,702.7 716.8,702.7 721.7,710.1 726.6,710.9 731.5,713.1 736.4,700.4 741.3,606.0 746.2,656.2 751.1,647.2 756.0,643.8 760.9,654.7 765.8,665.2 770.7,667.3 775.6,677.9 780.5,683.6 785.4,674.9 790.3,673.4 795.2,678.2 800.1,672.7 805.0,670.7 809.9,677.6 814.8,675.2 819.7,677.9 824.6,669.2 829.5,673.4 834.4,676.4 839.3,677.2 844.2,674.9 849.1,669.7 854.0,665.9 858.9,670.1 863.8,667.7 868.7,676.7 873.6,684.7 878.5,687.4 883.4,686.9 888.3,681.7 893.2,691.7 898.1,687.7 903.0,683.2 907.9,685.1 912.8,707.1 917.7,701.6 922.6,707.9 927.5,678.7 932.4,685.4 937.3,679.4 942.2,668.2 947.1,673.7 952.0,675.2 956.9,683.0 961.8,682.3 966.7,680.2 971.6,675.7 976.5,675.1 981.4,678.1 986.3,676.2 991.2,651.4 996.1,644.7 1001.0,636.5 1005.9,641.0 1010.8,644.2 1015.7,646.6 1020.6,645.7 1025.5,651.7 1030.4,660.4 1035.3,648.1 1040.2,651.7 1045.1,651.4 1050.0,667.2 1054.9,674.7 1059.8,664.2 1064.7,668.7 1069.6,626.0 1074.5,623.7 1079.4,606.8 1084.3,626.7 1089.2,623.7 1094.1,620.0 1099.0,639.5 1103.9,653.7 1108.8,655.2 1113.7,661.6 1118.6,655.2 1123.5,663.1 1128.4,661.6 1133.3,651.4 1138.2,636.8 1143.1,664.6 1148.0,664.9 1152.9,659.2 1157.8,660.7" fill="none" stroke="#7e57c2" stroke-width="3" stroke-linejoin="round" stroke-linecap="round"/>
</g>
<text x="10.3" y="19.3" font-size="13" fill="#131722" textLength="59.0" lengthAdjust="spacingAndGlyphs">ranadagger</text>
<text x="74.3" y="19.3" font-size="13" fill="#131722" textLength="50.0" lengthAdjust="spacingAndGlyphs">published</text>
<text x="129.2" y="19.3" font-size="13" fill="#131722" textLength="12.1" lengthAdjust="spacingAndGlyphs">on</text>
<text x="146" y="19.3" font-size="13" fill="#131722" textLength="92.9" lengthAdjust="spacingAndGlyphs">TradingView.com,</text>
<text x="244.3" y="19.3" font-size="13" fill="#131722" textLength="19.4" lengthAdjust="spacingAndGlyphs">May</text>
<text x="268.8" y="19.3" font-size="13" fill="#131722" textLength="14.6" lengthAdjust="spacingAndGlyphs">26,</text>
<text x="289.3" y="19.3" font-size="13" fill="#131722" textLength="24.1" lengthAdjust="spacingAndGlyphs">2025</text>
<text x="319.2" y="19.3" font-size="13" fill="#131722" textLength="27.0" lengthAdjust="spacingAndGlyphs">16:26</text>
<text x="351.3" y="19.3" font-size="13" fill="#131722" textLength="21.2" lengthAdjust="spacingAndGlyphs">UTC</text>
<text x="18" y="46.3" font-size="12" fill="#131722" textLength="44" lengthAdjust="spacingAndGlyphs">Cardano</text>
<text x="67.6" y="46.3" font-size="12" fill="#131722" textLength="5.4" lengthAdjust="spacingAndGlyphs">/</text>
<text x="77" y="46.3" font-size="12" fill="#131722" textLength="46" lengthAdjust="spacingAndGlyphs">TetherUS</text>
<text x="136" y="46.3" font-size="12" fill="#131722" textLength="13" lengthAdjust="spacingAndGlyphs">1D</text>
<text x="161" y="46.3" font-size="12" fill="#131722" textLength="45" lengthAdjust="spacingAndGlyphs">BINANCE</text>
<text x="129.3" y="46.3" font-size="12" fill="#131722" text-anchor="middle">·</text>
<text x="155.8" y="46.3" font-size="12" fill="#131722" text-anchor="middle">·</text>
<text x="214" y="46.3" font-size="12" fill="#131722" textLength="8" lengthAdjust="spacingAndGlyphs">O</text>
<text x="222" y="46.3" font-size="12" fill="#ef5350" textLength="36" lengthAdjust="spacingAndGlyphs">0.7598</text>
<text x="265.4" y="46.3" font-size="12" fill="#131722" textLength="7.6" lengthAdjust="spacingAndGlyphs">H</text>
<text x="273" y="46.3" font-size="12" fill="#ef5350" textLength="35" lengthAdjust="spacingAndGlyphs">0.7771</text>
<text x="316.4" y="46.3" font-size="12" fill="#131722" textLength="6" lengthAdjust="spacingAndGlyphs">L</text>
<text x="322.4" y="46.3" font-size="12" fill="#ef5350" textLength="36" lengthAdjust="spacingAndGlyphs">0.7548</text>
<text x="365.4" y="46.3" font-size="12" fill="#131722" textLength="7" lengthAdjust="spacingAndGlyphs">C</text>
<text x="372.4" y="46.3" font-size="12" fill="#ef5350" textLength="36" lengthAdjust="spacingAndGlyphs">0.7570</text>
<text x="416" y="46.3" font-size="12" fill="#ef5350" textLength="42" lengthAdjust="spacingAndGlyphs">−0.0028</text>
<text x="462" y="46.3" font-size="12" fill="#ef5350" textLength="45" lengthAdjust="spacingAndGlyphs">(−0.37%)</text>
<text x="18" y="63.3" font-size="12" fill="#131722" textLength="82" lengthAdjust="spacingAndGlyphs">EMA (20, close)</text>
<text x="107.5" y="63.3" font-size="12" fill="#2962ff" textLength="36" lengthAdjust="spacingAndGlyphs">0.7542</text>
<text x="18" y="80.3" font-size="12" fill="#131722" textLength="81.5" lengthAdjust="spacingAndGlyphs">SMA (50, close)</text>
<text x="107" y="80.3" font-size="12" fill="#f23645" textLength="35.5" lengthAdjust="spacingAndGlyphs">0.7023</text>
<text x="18.2" y="576" font-size="12" fill="#131722" textLength="76" lengthAdjust="spacingAndGlyphs">RSI (14, close)</text>
<text x="102" y="576" font-size="12" fill="#7e57c2" textLength="28.5" lengthAdjust="spacingAndGlyphs">51.91</text>
<text x="138.8" y="576" font-size="12" fill="#fdd835" textLength="29.5" lengthAdjust="spacingAndGlyphs">54.95</text>
<g transform="translate(179.3,571.6)" fill="none" stroke="#131722" stroke-width="1"><ellipse rx="2.9" ry="3.9"/><path d="M-3.1 4.8L3.4 -4.9" stroke-width="0.9"/></g>
<g transform="translate(195.3,571.6)" fill="none" stroke="#131722" stroke-width="1"><ellipse rx="2.9" ry="3.9"/><path d="M-3.1 4.8L3.4 -4.9" stroke-width="0.9"/></g>
<g transform="translate(210.3,571.6)" fill="none" stroke="#131722" stroke-width="1"><ellipse rx="2.9" ry="3.9"/><path d="M-3.1 4.8L3.4 -4.9" stroke-width="0.9"/></g>
<g transform="translate(225.3,571.6)" fill="none" stroke="#131722" stroke-width="1"><ellipse rx="2.9" ry="3.9"/><path d="M-3.1 4.8L3.4 -4.9" stroke-width="0.9"/></g>
<text x="148.4" y="756.3" font-size="12" fill="#131722" text-anchor="middle">Nov</text>
<text x="295" y="756.3" font-size="12" fill="#131722" text-anchor="middle">Dec</text>
<text x="447" y="756.3" font-size="12" fill="#131722" text-anchor="middle" font-weight="bold">2025</text>
<text x="599" y="756.3" font-size="12" fill="#131722" text-anchor="middle">Feb</text>
<text x="736" y="756.3" font-size="12" fill="#131722" text-anchor="middle">Mar</text>
<text x="888" y="756.3" font-size="12" fill="#131722" text-anchor="middle">Apr</text>
<text x="1035" y="756.3" font-size="12" fill="#131722" text-anchor="middle">May</text>
<text x="1187" y="756.3" font-size="12" fill="#131722" text-anchor="middle">Jun</text>
<text x="1302.2" y="70.0" font-size="12" fill="#131722" textLength="34.5" lengthAdjust="spacingAndGlyphs">1.3000</text>
<text x="1302.2" y="117.0" font-size="12" fill="#131722" textLength="34.5" lengthAdjust="spacingAndGlyphs">1.2000</text>
<text x="1302.2" y="164.0" font-size="12" fill="#131722" textLength="34.5" lengthAdjust="spacingAndGlyphs">1.1000</text>
<text x="1302.2" y="211.0" font-size="12" fill="#131722" textLength="34.5" lengthAdjust="spacingAndGlyphs">1.0000</text>
<text x="1302.2" y="258.0" font-size="12" fill="#131722" textLength="34.5" lengthAdjust="spacingAndGlyphs">0.9000</text>
<text x="1302.2" y="305.0" font-size="12" fill="#131722" textLength="34.5" lengthAdjust="spacingAndGlyphs">0.8000</text>
<text x="1302.2" y="398.0" font-size="12" fill="#131722" textLength="34.5" lengthAdjust="spacingAndGlyphs">0.6000</text>
<text x="1302.2" y="445.0" font-size="12" fill="#131722" textLength="34.5" lengthAdjust="spacingAndGlyphs">0.5000</text>
<text x="1302.2" y="492.0" font-size="12" fill="#131722" textLength="34.5" lengthAdjust="spacingAndGlyphs">0.4000</text>
<text x="1302.2" y="539.0" font-size="12" fill="#131722" textLength="34.5" lengthAdjust="spacingAndGlyphs">0.3000</text>
<text x="1301.2" y="595" font-size="12" fill="#131722" textLength="29.5" lengthAdjust="spacingAndGlyphs">80.00</text>
<text x="1301.2" y="695" font-size="12" fill="#131722" textLength="29.5" lengthAdjust="spacingAndGlyphs">40.00</text>
<rect x="1296.5" y="31.5" width="58.8" height="25" rx="4.5" fill="#fff" stroke="#eff0f3" stroke-width="1.8"/>
<text x="1305.5" y="48.8" font-size="12" fill="#131722" textLength="27" lengthAdjust="spacingAndGlyphs">USDT</text>
<rect x="1292.8" y="81" width="49.40000000000009" height="17" rx="2" fill="#0000ff"/>
<text x="1302" y="93.9" font-size="12" fill="#fff" font-weight="bold" textLength="35.5" lengthAdjust="spacingAndGlyphs">1.2500</text>
<rect x="1234.2" y="313" width="58.0" height="16.69999999999999" rx="2" fill="#ef5350"/>
<text x="1238.6" y="325.7" font-size="12" fill="#fff" font-weight="bold" textLength="49" lengthAdjust="spacingAndGlyphs">ADAUSDT</text>
<rect x="1292.8" y="313" width="63.200000000000045" height="44.80000000000001" rx="2" fill="#ef5350"/>
<text x="1301" y="325.7" font-size="12" fill="#fff" font-weight="bold" textLength="35.6" lengthAdjust="spacingAndGlyphs">0.7570</text>
<text x="1301.4" y="339.6" font-size="12" fill="#fff" font-weight="bold" textLength="48.8" lengthAdjust="spacingAndGlyphs">+119.29%</text>
<text x="1301" y="353.8" font-size="12" fill="#fff" textLength="47" lengthAdjust="spacingAndGlyphs">07:33:24</text>
<rect x="1300" y="343" width="49" height="13" fill="#ef5350" fill-opacity="0.25"/>
<rect x="1261.2" y="358" width="31.0" height="16.80000000000001" rx="2" fill="#2962ff"/>
<text x="1265.8" y="370.7" font-size="12" fill="#fff" font-weight="bold" textLength="22.4" lengthAdjust="spacingAndGlyphs">EMA</text>
<rect x="1292.8" y="358" width="49.200000000000045" height="16.80000000000001" rx="2" fill="#2962ff"/>
<text x="1301" y="370.7" font-size="12" fill="#fff" font-weight="bold" textLength="35.6" lengthAdjust="spacingAndGlyphs">0.7542</text>
<rect x="1242.2" y="374.9" width="50.0" height="16.80000000000001" rx="2" fill="#f23645"/>
<text x="1246.8" y="387.7" font-size="12" fill="#fff" font-weight="bold" textLength="41.4" lengthAdjust="spacingAndGlyphs">SMA:MA</text>
<rect x="1292.8" y="374.9" width="49.200000000000045" height="16.80000000000001" rx="2" fill="#f23645"/>
<text x="1301" y="387.7" font-size="12" fill="#fff" font-weight="bold" textLength="35.6" lengthAdjust="spacingAndGlyphs">0.7023</text>
<rect x="1213.1" y="636" width="79.10000000000014" height="16.700000000000045" rx="2" fill="#ffeb3b"/>
<text x="1217.5" y="648.5" font-size="12" fill="#131722" textLength="70" lengthAdjust="spacingAndGlyphs">RSI-based MA</text>
<rect x="1292.8" y="636" width="43.200000000000045" height="16.700000000000045" rx="2" fill="#ffeb3b"/>
<text x="1301.3" y="648.5" font-size="12" fill="#131722" textLength="29" lengthAdjust="spacingAndGlyphs">54.95</text>
<rect x="1267.3" y="652.9" width="24.90000000000009" height="16.899999999999977" rx="2" fill="#7e57c2"/>
<text x="1272" y="665.6" font-size="12" fill="#fff" font-weight="bold" textLength="15.8" lengthAdjust="spacingAndGlyphs">RSI</text>
<rect x="1292.8" y="652.9" width="43.200000000000045" height="16.899999999999977" rx="2" fill="#7e57c2"/>
<text x="1301.3" y="665.6" font-size="12" fill="#fff" font-weight="bold" textLength="29" lengthAdjust="spacingAndGlyphs">51.91</text>
<path d="M9.9 778H18.8V787.8H13.6V782H9.9z M24.6 778H29.6L26.2 787.8H21.2z" fill="#131722"/><circle cx="21.2" cy="780.25" r="2.1" fill="#131722"/>
<text x="33" y="787.8" font-size="12.5" fill="#131722" stroke="#131722" stroke-width="0.3" textLength="70.2" lengthAdjust="spacingAndGlyphs">TradingView</text>
</svg></body></html>
